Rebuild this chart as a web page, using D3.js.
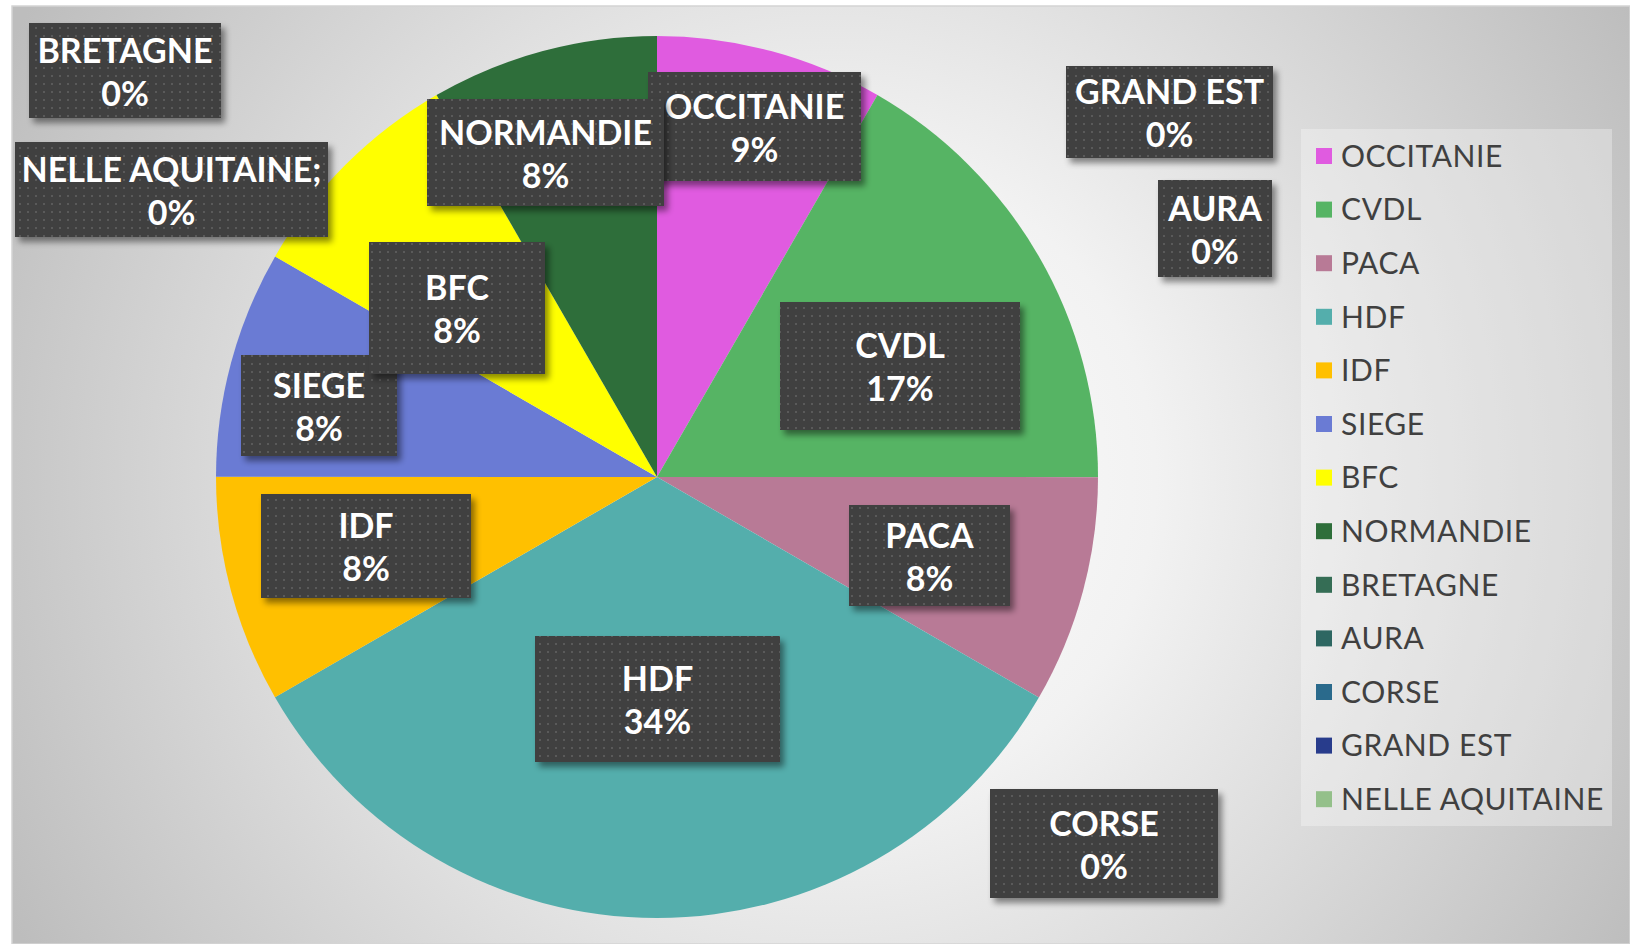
<!DOCTYPE html>
<html>
<head>
<meta charset="utf-8">
<script src="https://cdn.jsdelivr.net/npm/d3@7"></script>
<style>
  body { margin: 0; background: #fff; }
  text { font-family: Lato, "Open Sans", sans-serif; }
</style>
</head>
<body>
<div id="chart"></div>
<script>
// regions, in slice order (clockwise from 12 o'clock)
const regions = ["OCCITANIE", "CVDL", "PACA", "HDF", "IDF", "SIEGE", "BFC",
  "NORMANDIE", "BRETAGNE", "AURA", "CORSE", "GRAND EST", "NELLE AQUITAINE"];

// share of the total, in %
const shares = [8.33, 16.67, 8.33, 33.33, 8.33, 8.33, 8.33, 8.33, 0, 0, 0, 0, 0];

// percentages as printed on the data labels
const pctLabels = ["9%", "17%", "8%", "34%", "8%", "8%", "8%", "8%", "0%", "0%", "0%", "0%", "0%"];

// text shown in the data labels (Excel left a ";" on one of them)
const labelNames = ["OCCITANIE", "CVDL", "PACA", "HDF", "IDF", "SIEGE", "BFC",
  "NORMANDIE", "BRETAGNE", "AURA", "CORSE", "GRAND EST", "NELLE AQUITAINE;"];

const colors = ["#e05be0", "#56b464", "#b87a96", "#54aeac", "#ffc000", "#6a7bd4",
  "#ffff00", "#2e6e3a", "#356d55", "#2e6762", "#2a6a8c", "#283c8c", "#94c08a"];

// data label boxes were dragged by hand in the original: [x0, y0, x1, y1]
const labelBoxes = {
  "OCCITANIE": [648, 72, 861, 181],
  "CVDL": [780, 302, 1020, 430],
  "PACA": [849, 505, 1010, 606],
  "HDF": [535, 636, 780, 762],
  "IDF": [261, 494, 471, 598],
  "SIEGE": [241, 355, 397, 456],
  "BFC": [369, 242, 545, 374],
  "NORMANDIE": [427, 99, 664, 206],
  "BRETAGNE": [29, 23, 221, 118],
  "AURA": [1158, 180, 1272, 277],
  "CORSE": [990, 789, 1218, 898],
  "GRAND EST": [1066, 66, 1273, 158],
  "NELLE AQUITAINE": [15, 142, 328, 237]
};

const W = 1630, H = 944;
const cx = 657, cy = 477, radius = 441;

const svg = d3.select("#chart")
  .append("svg")
    .attr("width", W)
    .attr("height", H);

const defs = svg.append("defs");

// chart area background: radial grey gradient
const grad = defs.append("radialGradient")
  .attr("id", "bg")
  .attr("gradientUnits", "userSpaceOnUse")
  .attr("cx", 830).attr("cy", 480).attr("r", 930);
grad.append("stop").attr("offset", "0%").attr("stop-color", "#ffffff");
grad.append("stop").attr("offset", "35%").attr("stop-color", "#f2f2f2");
grad.append("stop").attr("offset", "100%").attr("stop-color", "#bdbdbd");

// dotted dark fill of the data labels
const pat = defs.append("pattern")
  .attr("id", "dots")
  .attr("patternUnits", "userSpaceOnUse")
  .attr("width", 8).attr("height", 8);
pat.append("rect").attr("width", 8).attr("height", 8).attr("fill", "#3f3f3f");
pat.append("rect").attr("x", 3).attr("y", 3).attr("width", 2).attr("height", 2).attr("fill", "#5a5a5a");

const shadow = defs.append("filter")
  .attr("id", "shadow")
  .attr("x", "-10%").attr("y", "-10%").attr("width", "130%").attr("height", "140%");
shadow.append("feDropShadow")
  .attr("dx", 4).attr("dy", 5).attr("stdDeviation", 3)
  .attr("flood-color", "#000").attr("flood-opacity", 0.45);

svg.append("rect")
  .attr("x", 12).attr("y", 6)
  .attr("width", W - 12).attr("height", H - 6)
  .attr("fill", "url(#bg)")
  .attr("stroke", "#d4d4d4")
  .attr("stroke-width", 1.5);

// pie
const pie = d3.pie().sort(null).value(d => d.share);
const arc = d3.arc().innerRadius(0).outerRadius(radius);

const data = regions.map((r, i) => ({
  region: r, share: shares[i], pct: pctLabels[i], color: colors[i], label: labelNames[i]
}));

const g = svg.append("g")
  .attr("transform", "translate(" + cx + "," + cy + ")");

g.selectAll("path")
  .data(pie(data))
  .join("path")
    .attr("d", arc)
    .attr("fill", d => d.data.color);

// data labels
const labels = svg.append("g")
  .selectAll("g")
  .data(data)
  .join("g");

labels.append("rect")
  .attr("x", d => labelBoxes[d.region][0])
  .attr("y", d => labelBoxes[d.region][1])
  .attr("width", d => labelBoxes[d.region][2] - labelBoxes[d.region][0])
  .attr("height", d => labelBoxes[d.region][3] - labelBoxes[d.region][1])
  .attr("fill", "url(#dots)")
  .attr("filter", "url(#shadow)");

const lbl = labels.append("text")
  .attr("text-anchor", "middle")
  .attr("fill", "#fff")
  .attr("font-weight", "bold")
  .attr("font-size", 34);

lbl.append("tspan")
  .attr("x", d => (labelBoxes[d.region][0] + labelBoxes[d.region][2]) / 2)
  .attr("y", d => (labelBoxes[d.region][1] + labelBoxes[d.region][3]) / 2 - 8)
  .text(d => d.label);

lbl.append("tspan")
  .attr("x", d => (labelBoxes[d.region][0] + labelBoxes[d.region][2]) / 2)
  .attr("y", d => (labelBoxes[d.region][1] + labelBoxes[d.region][3]) / 2 + 35)
  .text(d => d.pct);

// legend
const legX = 1301, legY = 129, legW = 311, legH = 697, step = 53.6;

svg.append("rect")
  .attr("x", legX).attr("y", legY)
  .attr("width", legW).attr("height", legH)
  .attr("fill", "#fff")
  .attr("fill-opacity", 0.3);

const leg = svg.append("g")
  .selectAll("g")
  .data(data)
  .join("g")
    .attr("transform", (d, i) => "translate(" + (legX + 15) + "," + (legY + 27 + i * step) + ")");

leg.append("rect")
  .attr("x", 0).attr("y", -8)
  .attr("width", 16).attr("height", 16)
  .attr("fill", d => d.color);

leg.append("text")
  .attr("x", 25)
  .attr("dy", "0.36em")
  .attr("fill", "#404040")
  .attr("font-size", 30)
  .attr("letter-spacing", 0.6)
  .text(d => d.region);
</script>
</body>
</html>
